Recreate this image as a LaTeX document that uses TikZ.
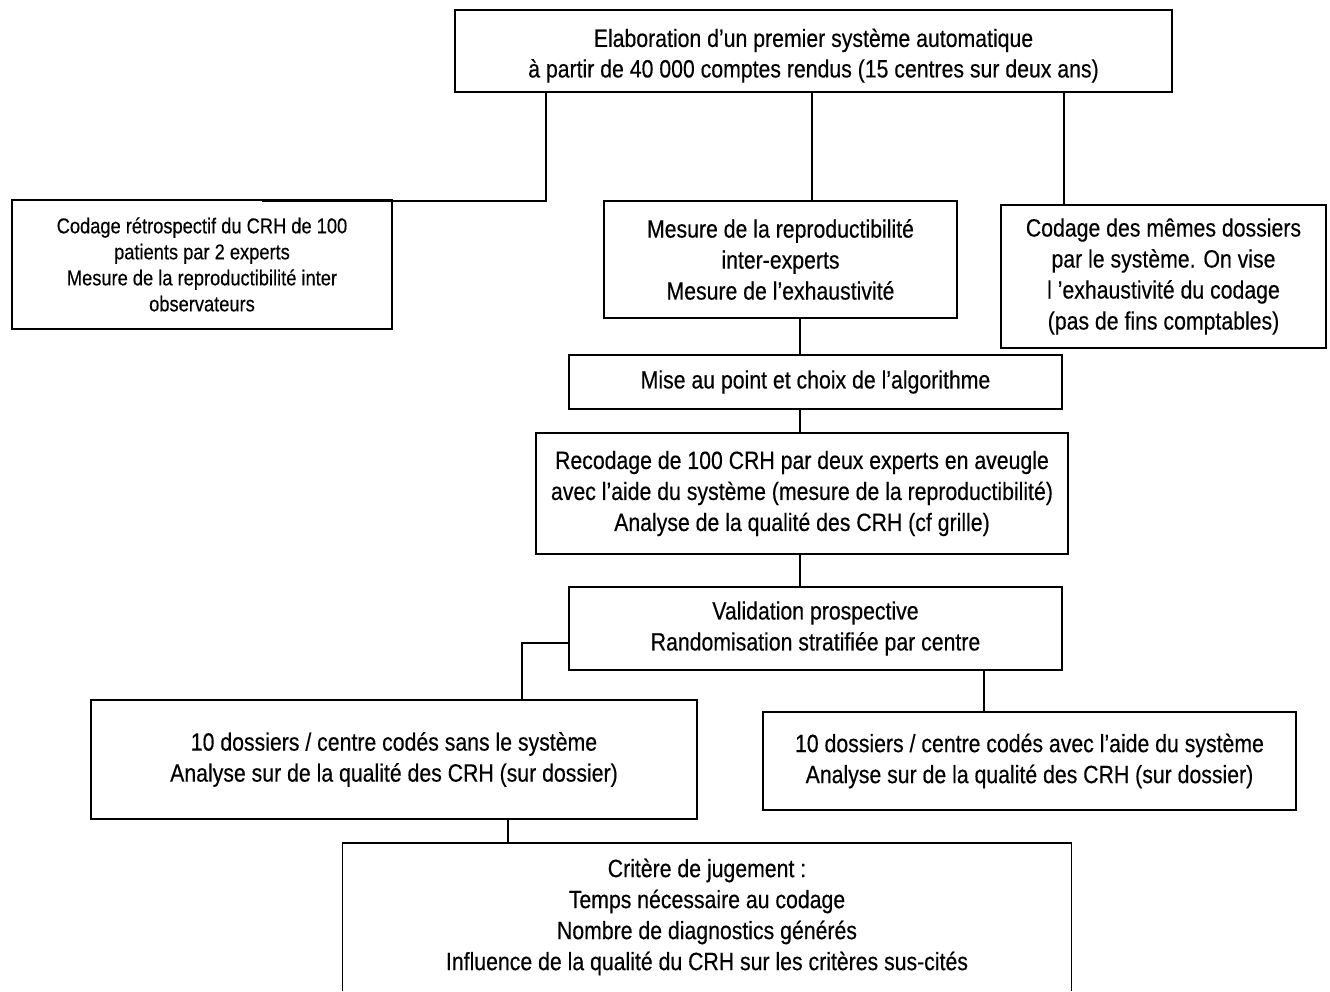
\documentclass[tikz,border=0pt]{standalone}
\usepackage{fontspec}
\setmainfont{Liberation Sans}[FakeStretch=0.85,FakeBold=0.35]
\newcommand{\bigtxt}{\fontsize{25}{31}\selectfont}
\newcommand{\smalltxt}{\fontsize{21.5}{26}\selectfont}
\begin{document}
\begin{tikzpicture}[x=1pt,y=-1pt,
  box/.style={draw, line width=1.2pt, align=center, inner sep=0pt, font=\bigtxt},
  openbox/.style={align=center, inner sep=0pt, font=\bigtxt},
  conn/.style={line width=1.7pt},
  boxline/.style={line width=1.2pt}]
\useasboundingbox (0,0) rectangle (1330,991);
% boxes
\node[box, minimum width=717pt, minimum height=82pt] (top) at (813.5,51)
  {\raisebox{-5pt}[\height][\depth]{\begin{tabular}{@{}c@{}}Elaboration d’un premier système automatique\\[-0.5pt]à partir de 40 000 comptes rendus (15 centres sur deux ans)\end{tabular}}};
\node[box, font=\smalltxt, minimum width=380pt, minimum height=129pt] (leftA) at (202,264.5)
  {Codage rétrospectif du CRH de 100\\patients par 2 experts\\Mesure de la reproductibilité inter\\observateurs};
\node[box, minimum width=353pt, minimum height=117pt] (mid) at (780.5,259.5)
  {Mesure de la reproductibilité\\inter-experts\\Mesure de l’exhaustivité};
\node[box, minimum width=325pt, minimum height=143pt] (right) at (1163.5,276.5)
  {Codage des mêmes dossiers\\par le système. On vise\\l ’exhaustivité du codage\\(pas de fins comptables)};
\node[box, minimum width=493pt, minimum height=54pt] (mise) at (815.5,382)
  {Mise au point et choix de l’algorithme};
\node[box, minimum width=532pt, minimum height=121pt] (recod) at (802,493.5)
  {Recodage de 100 CRH par deux experts en aveugle\\avec l’aide du système (mesure de la reproductibilité)\\Analyse de la qualité des CRH (cf grille)};
\node[box, minimum width=493pt, minimum height=83pt] (valid) at (815.5,628.5)
  {Validation prospective\\Randomisation stratifiée par centre};
\node[box, minimum width=606pt, minimum height=119pt] (lowL) at (394,759.5)
  {10 dossiers / centre codés sans le système\\Analyse sur de la qualité des CRH (sur dossier)};
\node[box, minimum width=533pt, minimum height=98pt] (lowR) at (1029.5,761)
  {10 dossiers / centre codés avec l'aide du système\\Analyse sur de la qualité des CRH (sur dossier)};
\node[openbox, minimum width=728pt, minimum height=143pt] (crit) at (707,917)
  {Critère de jugement :\\Temps nécessaire au codage\\Nombre de diagnostics générés\\Influence de la qualité du CRH sur les critères sus-cités};
\coordinate (yb) at (0,991);
\coordinate (yt) at (0,843);
\draw[boxline] (crit.west |- yb) -- (crit.west |- yt) -- (crit.east |- yt) -- (crit.east |- yb);
% connector helper coordinates
\coordinate (jA) at (546,201);
\coordinate (eA) at (262,201);
\coordinate (xM) at (812,0);
\coordinate (jC) at (1064,205);
\coordinate (eC) at (1299,205);
\coordinate (x800) at (800,0);
\coordinate (jL) at (522,643);
\coordinate (xR) at (984,0);
\coordinate (xB) at (508,0);
% connectors
\draw[conn] (top.south -| jA) -- (jA) -- (eA);
\draw[conn] (top.south -| xM) -- (mid.north -| xM);
\draw[conn] (top.south -| jC) -- (jC) -- (eC);
\draw[conn] (mid.south -| x800) -- (mise.north -| x800);
\draw[conn] (mise.south -| x800) -- (recod.north -| x800);
\draw[conn] (recod.south -| x800) -- (valid.north -| x800);
\draw[conn] (valid.west |- jL) -- (jL) -- (lowL.north -| jL);
\draw[conn] (valid.south -| xR) -- (lowR.north -| xR);
\draw[conn] (lowL.south -| xB) -- (yt -| xB);
\end{tikzpicture}
\end{document}
